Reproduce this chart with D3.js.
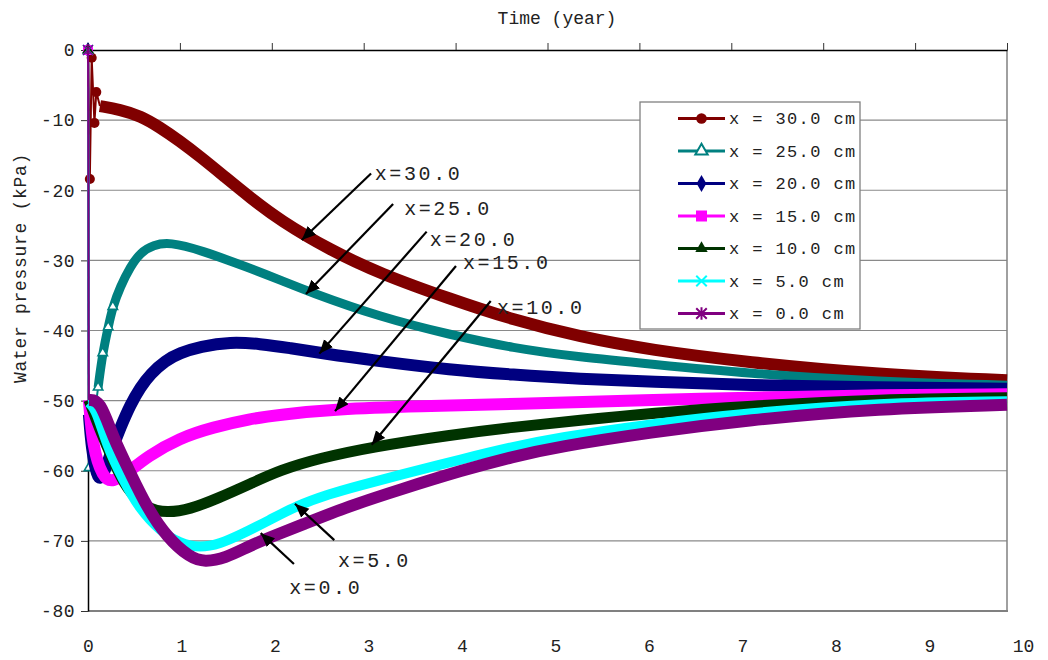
<!DOCTYPE html>
<html><head><meta charset="utf-8">
<script src="https://cdn.jsdelivr.net/npm/d3@7"></script>
<style>
body{margin:0;background:#fff}
svg{display:block}
text{font-family:"Liberation Mono","DejaVu Sans Mono",monospace;fill:#222}
</style>
</head><body>
<svg id="c" width="1048" height="660"></svg>
<script>
// ---- data ----
const timeTicks = [0,1,2,3,4,5,6,7,8,9,10];
const pressureTicks = [0,-10,-20,-30,-40,-50,-60,-70,-80];
const seriesNames = ["x = 30.0 cm","x = 25.0 cm","x = 20.0 cm","x = 15.0 cm","x = 10.0 cm","x = 5.0 cm","x = 0.0 cm"];
const xTitle = "Time (year)";
const yTitle = "Water pressure (kPa)";

// [time (year), water pressure (kPa)]
const x30 = [[0,0],[0.02,-18.4],[0.04,-1.1],[0.07,-10.4],[0.09,-6.0],[0.13,-8.0],[0.35,-8.5],[0.57,-9.4],[0.78,-11.0],[1.0,-13.0],[1.22,-15.2],[1.49,-18.1],[1.76,-21.0],[2.09,-24.3],[2.63,-28.5],[3.18,-31.9],[3.94,-35.5],[4.63,-38.5],[5.35,-40.9],[6.13,-42.8],[7.15,-44.5],[8.62,-46.3],[10.0,-47.1]];
const x25 = [[0,0],[0.01,-59.6],[0.05,-54.2],[0.11,-48.1],[0.16,-43.2],[0.22,-39.5],[0.27,-36.6],[0.35,-33.8],[0.46,-30.9],[0.57,-28.9],[0.71,-27.8],[0.89,-27.4],[1.22,-28.5],[1.76,-31.1],[2.09,-32.8],[2.39,-34.4],[3.18,-38.1],[3.94,-40.6],[4.62,-42.5],[5.35,-43.8],[6.13,-44.8],[7.15,-46.1],[8.62,-47.3],[10.0,-47.8]];
const x20 = [[0,0],[0.01,-52.0],[0.04,-57.0],[0.10,-60.9],[0.14,-61.2],[0.19,-59.8],[0.26,-57.0],[0.35,-53.9],[0.46,-50.6],[0.57,-48.1],[0.68,-46.2],[0.84,-44.3],[1.0,-43.2],[1.22,-42.3],[1.55,-41.6],[1.87,-41.9],[2.20,-42.5],[2.52,-43.2],[3.18,-44.4],[3.94,-45.6],[4.62,-46.3],[5.35,-46.9],[6.13,-47.3],[7.15,-47.8],[8.62,-48.1],[10.0,-48.3]];
const x15 = [[0,0],[0.01,-49.9],[0.05,-56.6],[0.16,-61.0],[0.27,-61.7],[0.46,-60.0],[0.64,-58.0],[1.0,-55.3],[1.36,-53.8],[1.76,-52.6],[2.09,-52.0],[2.69,-51.2],[3.61,-50.8],[4.62,-50.5],[6.13,-49.9],[7.15,-49.6],[8.62,-49.2],[10.0,-49.1]];
const x10 = [[0,0],[0.01,-49.9],[0.13,-54.2],[0.27,-58.5],[0.42,-62.7],[0.64,-65.4],[0.86,-66.0],[1.11,-65.5],[1.40,-64.0],[1.76,-61.9],[2.09,-59.9],[2.52,-58.2],[3.09,-56.6],[3.94,-54.9],[4.62,-53.8],[5.35,-52.8],[6.13,-51.8],[7.15,-50.8],[8.62,-49.8],[10.0,-49.6]];
const x5  = [[0,0],[0.01,-50.3],[0.09,-51.3],[0.21,-56.6],[0.38,-61.3],[0.57,-65.6],[0.78,-68.5],[1.0,-70.4],[1.22,-71.0],[1.44,-70.4],[1.65,-69.2],[1.98,-67.0],[2.27,-65.0],[2.63,-63.3],[2.93,-62.2],[3.39,-60.6],[4.08,-58.3],[4.62,-56.6],[5.10,-55.3],[6.13,-53.3],[7.15,-51.8],[8.62,-50.3],[10.0,-50.1]];
const x0  = [[0,0],[0.01,-49.9],[0.13,-49.9],[0.27,-55.2],[0.46,-60.3],[0.64,-65.2],[0.86,-69.5],[1.11,-72.4],[1.27,-73.0],[1.49,-72.5],[1.76,-70.7],[1.98,-69.5],[2.31,-67.8],[2.85,-65.0],[3.39,-62.7],[4.08,-59.9],[4.62,-58.0],[5.10,-56.6],[6.13,-54.5],[7.15,-52.8],[8.62,-51.1],[10.0,-50.6]];

// annotations: label, text anchor point, arrow tail, arrow tip (data coords)
const annLabels = ["x=30.0","x=25.0","x=20.0","x=15.0","x=10.0","x=5.0","x=0.0"];
const annText = [[3.12,-17.6],[3.44,-22.6],[3.72,-27.0],[4.08,-30.3],[4.45,-36.6],[2.72,-72.7],[2.19,-76.6]];
const annTail = [[3.08,-17.6],[3.32,-21.96],[3.685,-25.9],[4.004,-30.8],[4.382,-35.8],[2.68,-69.9],[2.241,-73.3]];
const annTip  = [[2.326,-27.1],[2.372,-34.8],[2.517,-43.3],[2.688,-51.5],[3.087,-56.3],[2.252,-64.7],[1.879,-68.9]];

// ---- chart ----
const svg = d3.select("#c");
const x = d3.scaleLinear().domain([0,10]).range([88,1007]);
const xLab = d3.scaleLinear().domain([0,10]).range([88,1023]);
const y = d3.scaleLinear().domain([-80,0]).range([611,50]);
const FONT = '"Liberation Mono","DejaVu Sans Mono",monospace';

// grid
svg.append("g").selectAll("line").data(pressureTicks.filter(d=>d<0 && d>-80)).join("line")
  .attr("x1",x(0)).attr("x2",x(10)).attr("y1",d=>y(d)).attr("y2",d=>y(d))
  .attr("stroke","#8a8a8a").attr("stroke-width",1.2);
// frame bottom/right
svg.append("line").attr("x1",x(0)).attr("x2",x(10)+1).attr("y1",y(-80)).attr("y2",y(-80)).attr("stroke","#808080").attr("stroke-width",2);
svg.append("line").attr("x1",x(10)).attr("x2",x(10)).attr("y1",y(0)).attr("y2",y(-80)).attr("stroke","#808080").attr("stroke-width",1.5);

// top axis (ticks only)
const gTop = svg.append("g").attr("transform",`translate(0,${y(0)})`)
  .call(d3.axisTop(x).tickValues(timeTicks).tickSize(7).tickSizeOuter(0).tickFormat(""));
gTop.select(".domain").attr("stroke","#000").attr("stroke-width",1.5);
gTop.selectAll(".tick line").attr("stroke","#333");

// left axis
const gLeft = svg.append("g").attr("transform",`translate(${x(0)},0)`)
  .call(d3.axisLeft(y).tickValues(pressureTicks).tickSize(7).tickSizeOuter(0).tickPadding(6).tickFormat(d=>String(d)));
gLeft.select(".domain").attr("stroke","#000").attr("stroke-width",1.5);
gLeft.selectAll(".tick line").attr("stroke","#333");
gLeft.attr("font-family",FONT).attr("font-size",18);
gLeft.selectAll("text").attr("fill","#222").attr("letter-spacing",0.5);

// bottom labels
const gBot = svg.append("g").attr("transform","translate(0,639)")
  .call(d3.axisBottom(xLab).tickValues(timeTicks).tickSize(0).tickPadding(0).tickFormat(d=>String(d)));
gBot.select(".domain").remove();
gBot.attr("font-family",FONT).attr("font-size",18);
gBot.selectAll("text").attr("fill","#222");

// titles
svg.append("text").attr("x",557).attr("y",18).attr("dy","0.35em").attr("text-anchor","middle")
  .attr("font-size",18).text(xTitle);
svg.append("text").attr("transform","translate(20,268) rotate(-90)").attr("dy","0.35em")
  .attr("text-anchor","middle").attr("font-size",18).attr("letter-spacing",0.7).text(yTitle);

// symbols
function symbolPath(kind, s){
  switch(kind){
    case "circle": return d3.symbol(d3.symbolCircle, s*s*0.8)();
    case "triangle": return d3.symbol(d3.symbolTriangle, s*s*0.6)();
    case "diamond": return d3.symbol(d3.symbolDiamond, s*s*0.75)();
    case "square": return d3.symbol(d3.symbolSquare, s*s)();
    case "x": { const h=s/2; return `M${-h},${-h}L${h},${h}M${-h},${h}L${h},${-h}`; }
    case "star": { const h=s/2; return `M${-h},${-h}L${h},${h}M${-h},${h}L${h},${-h}M0,${-h*1.2}L0,${h*1.2}`; }
  }
}
const series = [
  {name:seriesNames[0], data:x30, color:"#800000", sym:"circle",  fill:"#800000", band:12, sparse:5, marks:5, msize:10},
  {name:seriesNames[1], data:x25, color:"#008080", sym:"triangle",fill:"#fff",    band:9,  sparse:3, marks:7, msize:8},
  {name:seriesNames[2], data:x20, color:"#000080", sym:"diamond", fill:"#000080", band:12, sparse:1, marks:1, msize:10},
  {name:seriesNames[3], data:x15, color:"#FF00FF", sym:"square",  fill:"#FF00FF", band:12, sparse:1, marks:1, msize:10},
  {name:seriesNames[4], data:x10, color:"#003300", sym:"triangle",fill:"#003300", band:11, sparse:1, marks:1, msize:10},
  {name:seriesNames[5], data:x5,  color:"#00FFFF", sym:"x",       fill:"none",    band:10, sparse:1, marks:1, msize:10},
  {name:seriesNames[6], data:x0,  color:"#800080", sym:"star",    fill:"none",    band:12, sparse:1, marks:1, msize:10}
];
const thin = d3.line().x(d=>x(d[0])).y(d=>y(d[1]));
const band = d3.line().x(d=>x(d[0])).y(d=>y(d[1])).curve(d3.curveBasis);
const gS = svg.append("g");
series.forEach(s=>{
  const g = gS.append("g");
  g.append("path").attr("d",thin(s.data.slice(0,s.sparse+1))).attr("fill","none")
    .attr("stroke",s.color).attr("stroke-width",2);
  g.append("path").attr("d",band(s.data.slice(s.sparse))).attr("fill","none")
    .attr("stroke",s.color).attr("stroke-width",s.band).attr("stroke-linejoin","round");
  const stroked = (s.sym==="x"||s.sym==="star"||s.fill==="#fff");
  g.selectAll(".m").data(s.data.slice(0,s.marks)).join("path")
    .attr("transform",d=>`translate(${x(d[0])},${y(d[1])})`)
    .attr("d",symbolPath(s.sym,s.msize))
    .attr("fill",s.fill).attr("stroke",stroked?s.color:"none").attr("stroke-width",1.6);
});

// legend
const lg = svg.append("g");
lg.append("rect").attr("x",640).attr("y",102).attr("width",220).attr("height",227)
  .attr("fill","#fff").attr("stroke","#808080").attr("stroke-width",1.3);
series.forEach((s,i)=>{
  const yy = 118.5 + i*32.5;
  lg.append("line").attr("x1",678).attr("x2",725).attr("y1",yy).attr("y2",yy)
    .attr("stroke",s.color).attr("stroke-width",3);
  const stroked = (s.sym==="x"||s.sym==="star"||s.fill==="#fff");
  lg.append("path").attr("transform",`translate(701.5,${yy})`).attr("d",symbolPath(s.sym,s.sym==="square"?11:10.5))
    .attr("fill",s.fill).attr("stroke",stroked?s.color:"none").attr("stroke-width",2);
  lg.append("text").attr("x",729).attr("y",yy).attr("dy","0.35em").attr("font-size",17)
    .attr("letter-spacing",1.4).style("white-space","pre").text(s.name);
});

// annotations
svg.append("defs").append("marker").attr("id","ah").attr("markerUnits","userSpaceOnUse")
  .attr("markerWidth",16).attr("markerHeight",14).attr("refX",14).attr("refY",6)
  .attr("orient","auto").append("path").attr("d","M0,0L14,6L0,12Z").attr("fill","#000");
const ga = svg.append("g");
annLabels.forEach((lab,i)=>{
  ga.append("line").attr("x1",x(annTail[i][0])).attr("y1",y(annTail[i][1]))
    .attr("x2",x(annTip[i][0])).attr("y2",y(annTip[i][1]))
    .attr("stroke","#000").attr("stroke-width",2.2).attr("marker-end","url(#ah)");
  ga.append("text").attr("x",x(annText[i][0])).attr("y",y(annText[i][1])).attr("dy","0.35em")
    .attr("font-size",20).attr("letter-spacing",2.6).text(lab);
});
</script>
</body></html>
